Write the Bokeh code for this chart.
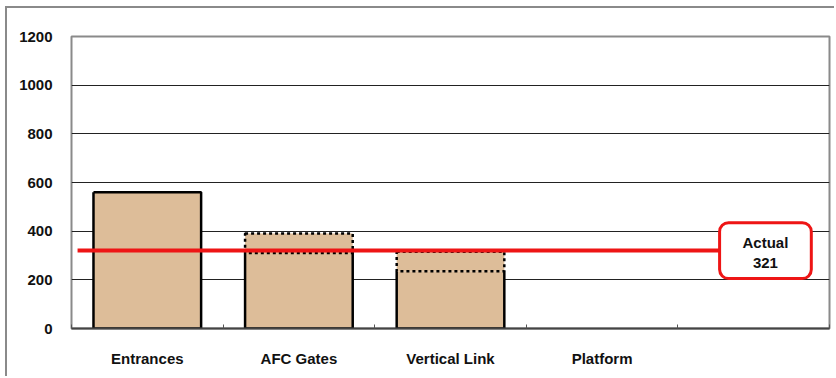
from bokeh.plotting import figure
from bokeh.models import FixedTicker, Range1d
from bokeh.core.properties import value
from bokeh.embed import file_html
from bokeh.resources import INLINE

# ---- data ----
categories = ["Entrances", "AFC Gates", "Vertical Link", "Platform", ""]
base_values = [560, 310, 235, 0, 0]
extra_values = [0, 80, 80, 0, 0]
actual_value = 321
actual_label = "Actual"
y_ticks = [0, 200, 400, 600, 800, 1000, 1200]

BAR_W = 0.71
TAN = "#DDBD99"
RED = "#EE1515"
FONT = "Liberation Sans"

n = len(categories)
centers = [i + 0.5 for i in range(n)]

p = figure(width=829, height=370, output_backend="svg", toolbar_location=None,
           x_range=Range1d(0, n), y_range=Range1d(0, 1200),
           min_border_left=64, min_border_right=7, min_border_top=28, min_border_bottom=50,
           margin=(6, 0, 0, 5))
p.styles = {"border-left": "2px solid #8a8a8a", "border-top": "2px solid #8a8a8a"}
p.background_fill_color = "white"
p.border_fill_color = "white"
p.outline_line_color = "#8a8a8a"
p.outline_line_width = 2

# grid
p.xgrid.visible = False
p.ygrid.ticker = FixedTicker(ticks=y_ticks[1:-1])
p.ygrid.grid_line_color = "#222222"
p.ygrid.grid_line_width = 1

# y axis
p.yaxis.ticker = FixedTicker(ticks=y_ticks)
p.yaxis.axis_line_color = None
p.yaxis.major_tick_line_color = None
p.yaxis.minor_tick_line_color = None
p.yaxis.major_label_standoff = 13
p.yaxis.major_label_text_font = FONT
p.yaxis.major_label_text_font_style = "bold"
p.yaxis.major_label_text_font_size = "15px"
p.yaxis.major_label_text_color = "#111111"

# x axis
p.xaxis.ticker = FixedTicker(ticks=centers, minor_ticks=list(range(n + 1)))
p.xaxis.major_label_overrides = {c: lab for c, lab in zip(centers, categories)}
p.xaxis.axis_line_color = "#444444"
p.xaxis.axis_line_width = 2
p.xaxis.major_tick_line_color = None
p.xaxis.minor_tick_line_color = "#555555"
p.xaxis.minor_tick_in = 4
p.xaxis.minor_tick_out = 0
p.xaxis.major_label_standoff = 15
p.xaxis.major_label_text_font = FONT
p.xaxis.major_label_text_font_style = "bold"
p.xaxis.major_label_text_font_size = "15px"
p.xaxis.major_label_text_color = "#111111"

# bars: lower solid part
bx = [c for c, b in zip(centers, base_values) if b > 0]
bb = [b for b in base_values if b > 0]
p.vbar(x=bx, top=bb, width=BAR_W, fill_color=TAN, line_color=None)

xs, ys = [], []
for c, b, e in zip(centers, base_values, extra_values):
    if b <= 0:
        continue
    l, r = c - BAR_W / 2, c + BAR_W / 2
    if e > 0:
        xs.append([l, l, r, r]); ys.append([b, 0, 0, b])
    else:
        xs.append([l, l, r, r, l]); ys.append([b, 0, 0, b, b])
p.multi_line(xs, ys, line_color="black", line_width=2.5)

# bars: upper dotted part
ux = [c for c, e in zip(centers, extra_values) if e > 0]
ub = [b for b, e in zip(base_values, extra_values) if e > 0]
ut = [b + e for b, e in zip(base_values, extra_values) if e > 0]
p.vbar(x=ux, bottom=ub, top=ut, width=BAR_W, fill_color=TAN,
       line_color="black", line_width=2.5, line_dash="3 3")

# actual line and callout
p.segment(x0=[0.04], y0=[actual_value], x1=[4.275], y1=[actual_value],
          line_color=RED, line_width=4)
p.quad(left=[4.275], right=[4.88], bottom=[205], top=[435],
       fill_color="white", line_color=RED, line_width=3, border_radius=9)
p.text(x=[4.5775, 4.5775], y=[353, 271], text=[actual_label, str(actual_value)],
       text_font=value(FONT), text_font_style="bold", text_font_size="15px",
       text_align="center", text_baseline="middle", text_color="#111111")

open("out.html", "w").write(file_html(p, INLINE))
